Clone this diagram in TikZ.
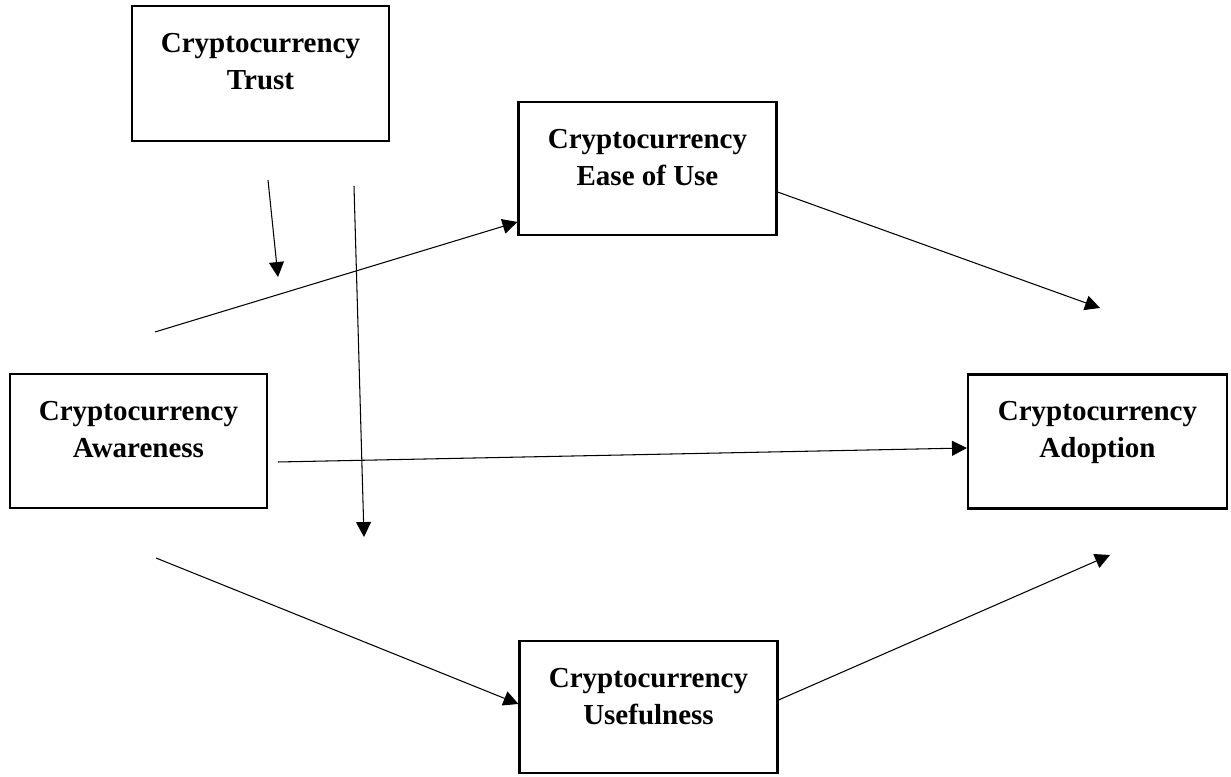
\documentclass[tikz,border=0pt]{standalone}
\usepackage{fontspec}
\setmainfont{Liberation Serif}
\usepackage{tikz}
\usetikzlibrary{positioning,arrows.meta}

\begin{document}
\begin{tikzpicture}[
    box/.style={draw, line width=1.2pt, minimum width=5.16cm, minimum height=2.68cm},
    lbl/.style={align=center, inner sep=0pt, font=\fontsize{16.5}{21}\selectfont\bfseries},
    link/.style={line width=0.6pt, -{Triangle[length=8.5pt,width=8.5pt]}}]
    \useasboundingbox (0,0) rectangle (24.62,15.54);
    % boxes
    \node[box, minimum width=5.14cm, minimum height=2.70cm] (trust) at (5.21,14.07) {};
    \node[box, minimum height=2.66cm] (ease) at (12.95,12.17) {};
    \node[box, minimum width=5.14cm] (aware) at (2.77,6.72) {};
    \node[box, minimum width=5.18cm] (adopt) at (21.95,6.71) {};
    \node[box, minimum height=2.64cm] (useful) at (12.97,1.40) {};
    % labels
    \node[lbl, below=0.56cm of trust.north] (trusttxt) {Cryptocurrency\\Trust};
    \node[lbl, below=0.56cm of ease.north] (easetxt) {Cryptocurrency\\Ease of Use};
    \node[lbl, below=0.56cm of aware.north] (awaretxt) {Cryptocurrency\\Awareness};
    \node[lbl, below=0.56cm of adopt.north] (adopttxt) {Cryptocurrency\\Adoption};
    \node[lbl, below=0.56cm of useful.north] (usefultxt) {Cryptocurrency\\Usefulness};
    % free ends
    \coordinate (aw1) at (3.10,8.90);
    \coordinate (aw2) at (3.12,4.38);
    \coordinate (aw3) at (5.56,6.30);
    \coordinate (tr1a) at (5.36,11.94);
    \coordinate (tr1b) at (5.56,10.00);
    \coordinate (tr2a) at (7.08,11.82);
    \coordinate (tr2b) at (7.28,4.80);
    \coordinate (ad1) at (22.00,9.38);
    \coordinate (ad2) at (22.20,4.44);
    % paths
    \draw[link] (aw1) -- ([yshift=-1.07cm]ease.west);
    \draw[link] (aw3) -- ([yshift=-0.13cm]adopt.west);
    \draw[link] (aw2) -- ([yshift=0.06cm]useful.west);
    \draw[link] ([yshift=-0.47cm]ease.east) -- (ad1);
    \draw[link] ([yshift=0.14cm]useful.east) -- (ad2);
    % trust arrows
    \draw[link] (tr1a) -- (tr1b);
    \draw[link] (tr2a) -- (tr2b);
\end{tikzpicture}
\end{document}
